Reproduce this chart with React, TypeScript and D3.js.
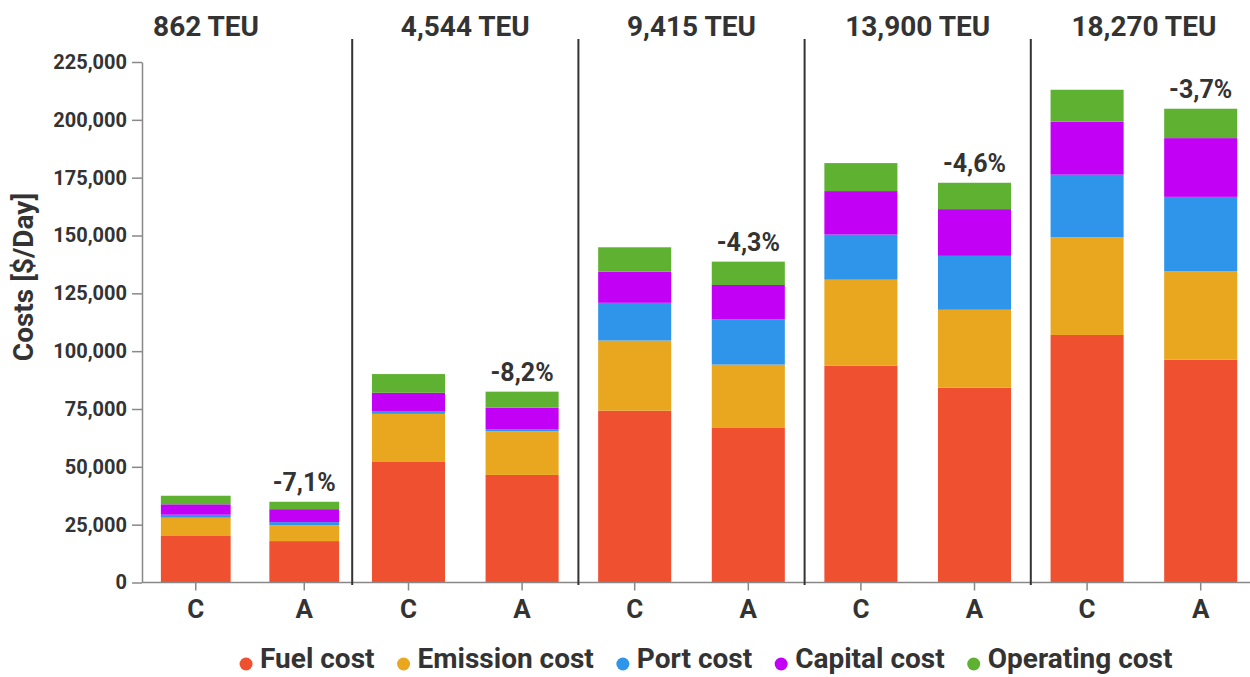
import React, { useEffect, useRef } from 'react';
import * as d3 from 'd3';

const ships = ['862 TEU', '4,544 TEU', '9,415 TEU', '13,900 TEU', '18,270 TEU'];
const scenarios = ['C', 'A'];
const changeLabels = ['-7,1%', '-8,2%', '-4,3%', '-4,6%', '-3,7%'];

const costTypes = ['Fuel cost', 'Emission cost', 'Port cost', 'Capital cost', 'Operating cost'];
const costColors = ['#EF5030', '#E8A71F', '#2F95EA', '#C200F5', '#5FB132'];

// values per ship, [C, A]
const fuelCost = [[20100, 17900], [52100, 46500], [74300, 66800], [93700, 84200], [107000, 96300]];
const emissionCost = [[7900, 6900], [20800, 18900], [30300, 27400], [37200, 33700], [42200, 38300]];
const portCost = [[1300, 1300], [1000, 900], [16300, 19600], [19500, 23300], [27100, 32100]];
const capitalCost = [[4500, 5600], [8100, 9300], [13500, 14800], [18800, 20200], [22900, 25400]];
const operatingCost = [[3700, 3200], [8100, 6900], [10500, 10100], [12100, 11400], [13800, 12700]];

const yTicks = [0, 25000, 50000, 75000, 100000, 125000, 150000, 175000, 200000, 225000];

const FONT = 'Roboto, "Noto Sans", sans-serif';
const INK = '#333';

const App = () => {
  const ref = useRef<SVGSVGElement>(null);

  useEffect(() => {
    document.body.style.margin = '0';
    const width = 1250;
    const height = 677;
    const plotLeft = 142;
    const plotRight = 1257;
    const series = [fuelCost, emissionCost, portCost, capitalCost, operatingCost];

    const rows = ships.flatMap((ship, i) =>
      scenarios.map((sc, j) => {
        const r: any = { ship, scenario: sc, idx: i };
        costTypes.forEach((c, k) => { r[c] = series[k][i][j]; });
        return r;
      })
    );

    const stacked = d3.stack().keys(costTypes)(rows);

    const svg = d3.select(ref.current);
    svg.selectAll('*').remove();
    svg.attr('width', width).attr('height', height).style('font-family', FONT);

    const y = d3.scaleLinear().domain([0, 225000]).range([582.5, 62]);
    const facet = d3.scaleBand().domain(ships).range([126, plotRight]);
    const color = d3.scaleOrdinal<string>().domain(costTypes).range(costColors);

    const inner = (ship: string) => {
      const x0 = facet(ship)!;
      const r0 = ship === ships[0] ? plotLeft : x0;
      const r1 = ship === ships[0] ? 358 : x0 + facet.bandwidth();
      return d3.scaleBand().domain(scenarios).range([r0, r1]).paddingInner(0.357).paddingOuter(0.174);
    };

    // bars
    svg.append('g')
      .selectAll('g')
      .data(stacked)
      .join('g')
      .attr('fill', d => color(d.key))
      .selectAll('rect')
      .data(d => d)
      .join('rect')
      .attr('x', d => inner(d.data.ship)(d.data.scenario)!)
      .attr('width', d => inner(d.data.ship).bandwidth())
      .attr('y', d => y(d[1]))
      .attr('height', d => y(d[0]) - y(d[1]));

    // y axis
    const yAxis = svg.append('g')
      .attr('transform', `translate(${plotLeft},0)`)
      .call(d3.axisLeft(y).tickValues(yTicks).tickFormat(d3.format(',')).tickSize(10).tickSizeOuter(0).tickPadding(5));
    yAxis.select('.domain').attr('stroke', '#888').attr('stroke-width', 1.5);
    yAxis.selectAll('.tick line').attr('stroke', '#888').attr('stroke-width', 1.5);
    yAxis.selectAll('.tick text')
      .attr('fill', INK).attr('font-size', 20).attr('font-weight', 700).attr('font-family', FONT);

    // x axis baseline
    svg.append('line')
      .attr('x1', plotLeft).attr('x2', width)
      .attr('y1', y(0)).attr('y2', y(0))
      .attr('stroke', '#888').attr('stroke-width', 1.5);

    // x ticks + labels
    const xt = svg.append('g');
    ships.forEach(ship => {
      const sx = inner(ship);
      scenarios.forEach(sc => {
        const cx = sx(sc)! + sx.bandwidth() / 2;
        xt.append('line').attr('x1', cx).attr('x2', cx).attr('y1', y(0)).attr('y2', y(0) + 8)
          .attr('stroke', '#888').attr('stroke-width', 1.5);
        xt.append('text').attr('x', cx).attr('y', 618).attr('text-anchor', 'middle')
          .attr('font-size', 26).attr('font-weight', 700).attr('fill', INK).text(sc);
      });
    });

    // facet separators
    svg.append('g')
      .selectAll('line')
      .data(ships.slice(1))
      .join('line')
      .attr('x1', d => facet(d)!).attr('x2', d => facet(d)!)
      .attr('y1', 39).attr('y2', 585)
      .attr('stroke', INK).attr('stroke-width', 2);

    // facet titles
    svg.append('g')
      .selectAll('text')
      .data(ships)
      .join('text')
      .attr('x', (d, i) => i === 0 ? (60 + facet(d)! + facet.bandwidth()) / 2 : facet(d)! + facet.bandwidth() / 2)
      .attr('y', 36)
      .attr('text-anchor', 'middle')
      .attr('font-size', 28).attr('font-weight', 700).attr('fill', INK)
      .text(d => d);

    // change labels above A bars
    const aTop = stacked[stacked.length - 1].filter(d => d.data.scenario === 'A');
    svg.append('g')
      .selectAll('text')
      .data(aTop)
      .join('text')
      .attr('x', d => inner(d.data.ship)('A')! + inner(d.data.ship).bandwidth() / 2)
      .attr('y', d => y(d[1]) - 11)
      .attr('text-anchor', 'middle')
      .attr('font-size', 25).attr('font-weight', 700).attr('fill', INK)
      .text(d => changeLabels[d.data.idx]);

    // y title
    svg.append('text')
      .attr('transform', `translate(33,277) rotate(-90)`)
      .attr('text-anchor', 'middle')
      .attr('font-size', 28).attr('font-weight', 700).attr('fill', INK)
      .text('Costs [$/Day]');

    // legend
    const legend = svg.append('g');
    const items = legend.selectAll('g').data(costTypes).join('g');
    items.append('circle').attr('r', 6.5).attr('cy', 664).attr('fill', d => color(d));
    items.append('text').attr('x', 14).attr('y', 668)
      .attr('font-size', 28).attr('font-weight', 700).attr('fill', INK).text(d => d);
    let offset = 0;
    const positions: number[] = [];
    items.each(function () {
      positions.push(offset);
      const w = (d3.select(this).select('text').node() as SVGTextElement).getComputedTextLength();
      offset += 14 + w + 29;
    });
    const total = offset - 29 + 6.5;
    const start = 706 - total / 2 + 6.5;
    items.attr('transform', (d, i) => `translate(${start + positions[i]},0)`);
  }, []);

  return <svg ref={ref} style={{ display: 'block' }} />;
};

export default App;
